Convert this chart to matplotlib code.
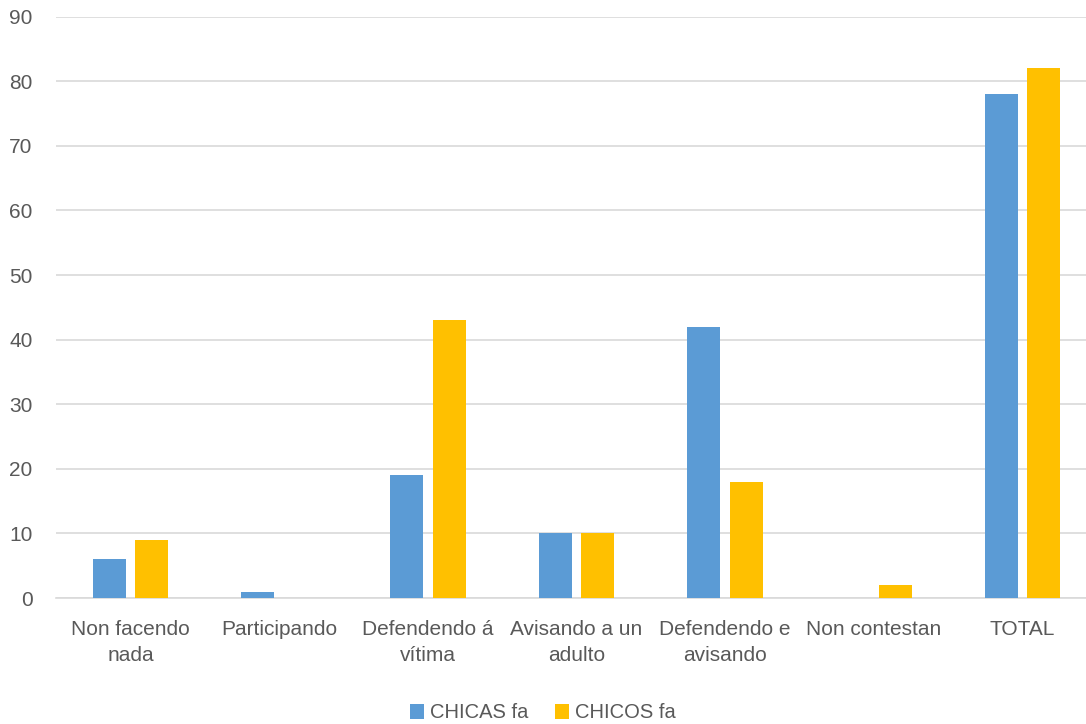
import matplotlib
matplotlib.use("Agg")
import matplotlib.pyplot as plt
import numpy as np

categories = ["Non facendo\nnada", "Participando", "Defendendo á\nvítima", "Avisando a un\nadulto",
              "Defendendo e\navisando", "Non contestan", "TOTAL"]
chicas = [6, 1, 19, 10, 42, 0, 78]
chicos = [9, 0, 43, 10, 18, 2, 82]
series_names = ["CHICAS fa", "CHICOS fa"]

plt.rcParams['font.family'] = ['Liberation Sans', 'DejaVu Sans']

W, H = 1086, 724
fig = plt.figure(figsize=(W / 100, H / 100), dpi=100)
left_px, right_px, top_px, bottom_px = 56.2, 1096.9, 16.7, 598
ax = fig.add_axes([left_px / W, 1 - bottom_px / H, (right_px - left_px) / W, (bottom_px - top_px) / H])

x = np.arange(len(categories))
w = 0.222
off = 0.143
ax.bar(x - off, chicas, width=w, color="#5B9BD5", label=series_names[0], zorder=3)
ax.bar(x + off, chicos, width=w, color="#FFC000", label=series_names[1], zorder=3)

ax.set_xlim(-0.5, len(categories) - 0.5)
ax.set_ylim(0, 90)
ax.set_yticks(range(0, 91, 10))
ax.yaxis.grid(True, color="#D9D9D9", linewidth=1.2, zorder=0)
ax.set_axisbelow(True)
for s in ["top", "right", "left"]:
    ax.spines[s].set_visible(False)
ax.spines["bottom"].set_color("#D9D9D9")
ax.spines["bottom"].set_linewidth(1.2)
ax.tick_params(axis="both", length=0, labelsize=15, colors="#595959")
ax.tick_params(axis="y", pad=17)
ax.tick_params(axis="x", pad=16)
ax.set_xticks(x)
ax.set_xticklabels(categories, linespacing=1.45)

fig.legend(loc="center", bbox_to_anchor=(0.5, 1 - 713 / H), ncol=2, frameon=False,
           fontsize=14.5, handlelength=0.7, handleheight=0.7, columnspacing=1.3,
           handletextpad=0.3, labelcolor="#595959")

fig.savefig("out.png", dpi=100)
